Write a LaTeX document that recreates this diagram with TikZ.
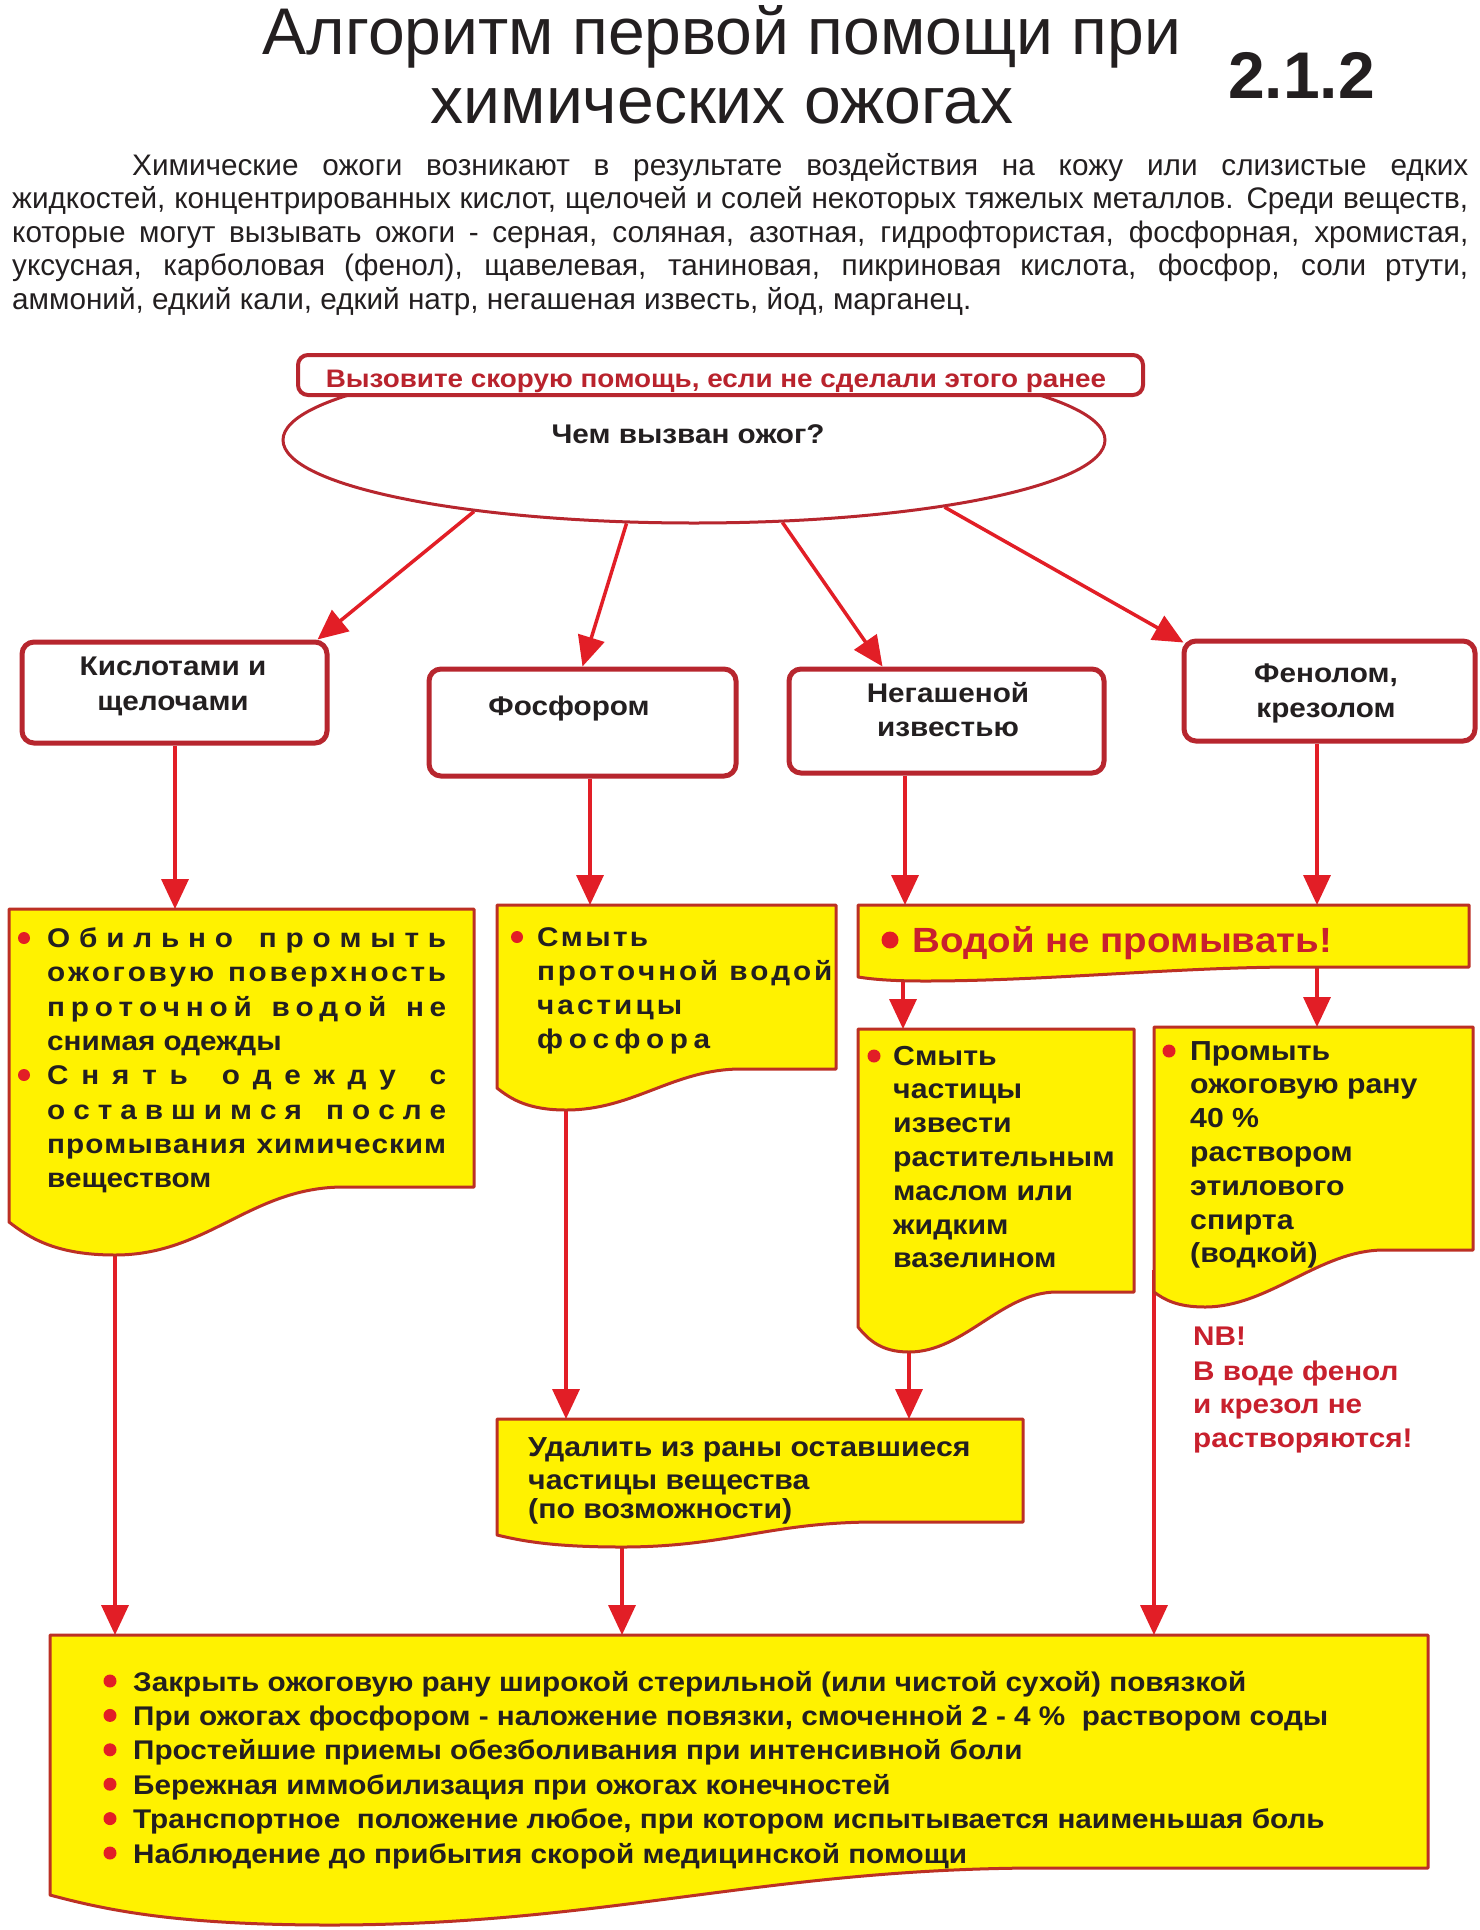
\documentclass[tikz,border=0pt]{standalone}
\usepackage{fontspec}
\setmainfont{Liberation Sans}
\newfontfamily\widesans{Liberation Sans}[FakeStretch=1.1]
\usetikzlibrary{arrows.meta,shapes.geometric,calc}
\pgfdeclarelayer{back}
\pgfdeclarelayer{under}
\pgfsetlayers{back,under,main}
\definecolor{txt}{RGB}{35,31,32}
\definecolor{boxred}{RGB}{183,38,46}
\definecolor{arrred}{RGB}{226,30,38}
\definecolor{docred}{RGB}{188,48,36}
\definecolor{yel}{RGB}{255,242,0}
\definecolor{redtxt}{RGB}{200,32,45}
\definecolor{calltxt}{RGB}{185,35,45}
\definecolor{bul}{RGB}{226,30,38}
\makeatletter
\def\lsp#1{\lsp@#1\@nil}
\def\lsp@#1#2\@nil{#1\if\relax\detokenize{#2}\relax\else\hfil\lsp@#2\@nil\fi}
\makeatother
\newcommand\docshape[8]{%
  \pgfmathsetmacro\dW{#4-#2}%
  \pgfmathsetmacro\dXc{#2+0.72*\dW}%
  \pgfmathsetmacro\dCa{\dXc-0.2*\dW}%
  \pgfmathsetmacro\dCb{#8+0.2*\dW}%
  \pgfmathsetmacro\dCc{#8-0.55*(#8-#2)}%
  \pgfmathsetmacro\dCd{#2+0.2*(#8-#2)}%
  \pgfmathsetmacro\dYd{0.5*(#6+#7)}%
  \path[docstyle] (#2,#3) -- (#4,#3) -- (#4,#5) -- (\dXc,#5) .. controls (\dCa,#5) and (\dCb,#7) .. (#8,#7) .. controls (\dCc,#7) and (\dCd,\dYd) .. (#2,#6) -- cycle;
  \coordinate (#1) at ({0.5*(#2+#4)},{0.5*(#3+#5)});
}
\begin{document}
\begin{tikzpicture}[x=1pt,y=-1pt,
  arr/.style={draw=arrred, line width=3.5pt, -{Triangle[length=30pt,width=27pt]}},
  wbox/.style={rectangle, draw=boxred, line width=5pt, fill=white, rounded corners=12pt, inner sep=0pt},
  docstyle/.style={draw=docred, line width=3pt, fill=yel, line join=round},
  ttl/.style={font=\fontsize{66}{70}\selectfont, text=txt, anchor=base, inner sep=0pt},
  numst/.style={font=\bfseries\fontsize{66}{70}\selectfont, text=txt, anchor=base west, inner sep=0pt},
  para/.style={font=\fontsize{29.7}{33}\selectfont, text=txt, anchor=base west, inner sep=0pt},
  bxt/.style={font=\widesans\bfseries\fontsize{27}{32}\selectfont, text=txt, anchor=base, inner sep=0pt},
  callst/.style={font=\widesans\bfseries\fontsize{25.3}{30}\selectfont, text=calltxt, anchor=base, inner sep=0pt},
  dta/.style={font=\widesans\bfseries\fontsize{27}{30}\selectfont, text=txt, anchor=base west, inner sep=0pt},
  dtb/.style={font=\widesans\bfseries\fontsize{27}{30}\selectfont, text=txt, anchor=base west, inner sep=0pt},
  dtc/.style={font=\widesans\bfseries\fontsize{27.5}{32}\selectfont, text=txt, anchor=base west, inner sep=0pt},
  dtr/.style={font=\widesans\bfseries\fontsize{35}{40}\selectfont, text=redtxt, anchor=base west, inner sep=0pt},
  nbt/.style={font=\widesans\bfseries\fontsize{27}{32}\selectfont, text=redtxt, anchor=base west, inner sep=0pt},
  dtd/.style={font=\widesans\bfseries\fontsize{27}{32}\selectfont, text=txt, anchor=base west, inner sep=0pt}
]
\begin{pgfonlayer}{back}
\fill[white] (0,0) rectangle (1480,1930);
\end{pgfonlayer}
\useasboundingbox (0,0) rectangle (1480,1930);

% title
\node[ttl] (t1) at (722,54) {Алгоритм первой помощи при};
\node[ttl] (t2) at (722,123) {химических ожогах};
\node[numst] (num) at (1228,98) {2.1.2};

% paragraph
\node[para] (p1) at (132,175) {\makebox[1336pt][s]{Химические ожоги возникают в результате воздействия на кожу или слизистые едких}};
\node[para] (p2) at (12,208.5) {\makebox[1456pt][s]{жидкостей, концентрированных кислот, щелочей и солей некоторых тяжелых металлов. Среди веществ,}};
\node[para] (p3) at (12,242) {\makebox[1456pt][s]{которые могут вызывать ожоги - серная, соляная, азотная, гидрофтористая, фосфорная, хромистая,}};
\node[para] (p4) at (12,275.5) {\makebox[1456pt][s]{уксусная, карболовая (фенол), щавелевая, таниновая, пикриновая кислота, фосфор, соли ртути,}};
\node[para] (p5) at (12,309) {аммоний, едкий кали, едкий натр, негашеная известь, йод, марганец.};

% ellipse and call box
\node[ellipse, draw=boxred, line width=3pt, fill=white, minimum width=822pt, minimum height=166pt, inner sep=0pt] (ell) at (694,440) {};
\node[bxt] (q) at (688,443) {Чем вызван ожог?};
\node[wbox, line width=4pt, rounded corners=10pt, minimum width=845pt, minimum height=40pt] (call) at (720.5,375) {};
\node[callst] (callt) at (716,387) {Вызовите скорую помощь, если не сделали этого ранее};

% cause boxes
\node[wbox, minimum width=305pt, minimum height=101pt] (b1) at (174.5,692.5) {};
\node[wbox, minimum width=307pt, minimum height=107pt] (b2) at (582.5,722.5) {};
\node[wbox, minimum width=315pt, minimum height=104pt] (b3) at (946.5,721) {};
\node[wbox, minimum width=291pt, minimum height=100pt] (b4) at (1329.5,691) {};
\node[bxt] (b1t1) at (173,675) {Кислотами и};
\node[bxt] (b1t2) at (173,710) {щелочами};
\node[bxt] (b2t1) at (569,715) {Фосфором};
\node[bxt] (b3t1) at (948,702) {Негашеной};
\node[bxt] (b3t2) at (948,736) {известью};
\node[bxt] (b4t1) at (1326,682) {Фенолом,};
\node[bxt] (b4t2) at (1326,717) {крезолом};

% documents
\docshape{d1}{9}{909}{474}{1187}{1222}{1255}{115}
\docshape{d2}{497}{905}{836}{1069}{1088}{1110}{566}
\docshape{d3}{858}{905}{1469}{967}{977}{981}{925}
\docshape{d4}{858}{1029}{1134}{1292}{1327}{1352}{909}
\docshape{d5}{1154}{1027}{1473}{1250}{1292}{1307}{1205}
\docshape{d6}{497}{1419}{1023}{1522}{1535}{1547}{622}
\docshape{d7}{50}{1635}{1428}{1868}{1895}{1925}{330}

% doc 1 text
\fill[bul] (24,938) circle[radius=6pt];
\fill[bul] (24,1075) circle[radius=6pt];
\node[dta] (d1l1) at (47,947) {\makebox[399pt][s]{\lsp{Обильно}\hfil\hfil\ \lsp{промыть}}};
\node[dta] (d1l2) at (47,981) {\makebox[399pt][s]{\lsp{ожоговую}\hfil\hfil\ \lsp{поверхность}}};
\node[dta] (d1l3) at (47,1016) {\makebox[399pt][s]{\lsp{проточной}\hfil\hfil\ \lsp{водой}\hfil\hfil\ \lsp{не}}};
\node[dta] (d1l4) at (47,1050) {снимая одежды};
\node[dta] (d1l5) at (47,1084) {\makebox[399pt][s]{\lsp{Снять}\hfil\hfil\ \lsp{одежду}\hfil\hfil\ \lsp{с}}};
\node[dta] (d1l6) at (47,1119) {\makebox[399pt][s]{\lsp{оставшимся}\hfil\hfil\ \lsp{после}}};
\node[dta] (d1l7) at (47,1153) {\makebox[399pt][s]{\lsp{промывания}\hfil\hfil\ \lsp{химическим}}};
\node[dta] (d1l8) at (47,1187) {веществом};

% doc 2 text
\fill[bul] (517,937) circle[radius=6pt];
\node[dtb] (d2l1) at (537,946) {\makebox[111pt][s]{\lsp{Смыть}}};
\node[dtb] (d2l2) at (537,980) {\makebox[295pt][s]{\lsp{проточной}\hfil\ \lsp{водой}}};
\node[dtb] (d2l3) at (537,1014) {\makebox[145pt][s]{\lsp{частицы}}};
\node[dtb] (d2l4) at (537,1048) {\makebox[173pt][s]{\lsp{фосфора}}};

% doc 3 text
\fill[bul] (890,940) circle[radius=8.5pt];
\node[dtr] (d3l1) at (912,952) {Водой не промывать!};

% doc 4 text
\fill[bul] (874,1056) circle[radius=6.5pt];
\foreach \s [count=\i] in {Смыть,частицы,извести,растительным,маслом или,жидким,вазелином}
  \node[dtc] (d4l\i) at (893,{1065+33.8*(\i-1)}) {\s};

% doc 5 text
\fill[bul] (1169,1051) circle[radius=6.5pt];
\foreach \s [count=\i] in {Промыть,ожоговую рану,40 \%,раствором,этилового,спирта,(водкой)}
  \node[dtc] (d5l\i) at (1190,{1060+33.8*(\i-1)}) {\s};

% NB
\node[nbt] (nb1) at (1193,1345) {NB!};
\node[nbt] (nb2) at (1193,1380) {В воде фенол};
\node[nbt] (nb3) at (1193,1413) {и крезол не};
\node[nbt] (nb4) at (1193,1447) {растворяются!};

% doc 6 text
\node[dtc] (d6l1) at (528,1456) {Удалить из раны оставшиеся};
\node[dtc] (d6l2) at (528,1489) {частицы вещества};
\node[dtc] (d6l3) at (528,1518) {(по возможности)};

% doc 7 text
\foreach \s [count=\i] in {
  {Закрыть ожоговую рану широкой стерильной (или чистой сухой) повязкой},
  {При ожогах фосфором - наложение повязки, смоченной 2 - 4 \%\ \ раствором соды},
  {Простейшие приемы обезболивания при интенсивной боли},
  {Бережная иммобилизация при ожогах конечностей},
  {Транспортное\ \ положение любое, при котором испытывается наименьшая боль},
  {Наблюдение до прибытия скорой медицинской помощи}}
{
  \fill[bul] (110,{1681+34.4*(\i-1)}) circle[radius=6.5pt];
  \node[dtd] (d7l\i) at (133,{1691+34.4*(\i-1)}) {\s};
}

% connector points
\coordinate (d1n) at (175,909);
\coordinate (d2n) at (590,905);
\coordinate (d3n1) at (905,905);
\coordinate (d3n2) at (1317,905);
\coordinate (d3s1) at (903,950);
\coordinate (d4n) at (903,1029);
\coordinate (d3s2) at (1317,950);
\coordinate (d5n) at (1317,1027);
\coordinate (d2s) at (566,1080);
\coordinate (d6n1) at (566,1419);
\coordinate (d4s) at (909,1320);
\coordinate (d6n2) at (909,1419);
\coordinate (d1s) at (115,1220);
\coordinate (d7n1) at (115,1635);
\coordinate (d6s) at (622,1530);
\coordinate (d7n2) at (622,1635);
\coordinate (d5s) at (1154,1270);
\coordinate (d7n3) at (1154,1635);

\begin{pgfonlayer}{under}
\draw[arr] (ell.198) -- ($(b1.north east)+(-12,0)$);
\draw[arr] (ell.231) -- (b2.north);
\draw[arr] (ell.317) -- ($(b3.north)+(-64,0)$);
\draw[arr] (ell.345) -- ($(b4.north west)+(2,4)$);
\draw[arr] (d1n |- b1.south) -- (d1n);
\draw[arr] (d2n |- b2.south) -- (d2n);
\draw[arr] (d3n1 |- b3.south) -- (d3n1);
\draw[arr] (d3n2 |- b4.south) -- (d3n2);
\draw[arr] (d3s1) -- (d4n);
\draw[arr] (d3s2) -- (d5n);
\draw[arr] (d2s) -- (d6n1);
\draw[arr] (d4s) -- (d6n2);
\draw[arr] (d1s) -- (d7n1);
\draw[arr] (d6s) -- (d7n2);
\draw[arr] (d5s) -- (d7n3);
\end{pgfonlayer}
\end{tikzpicture}
\end{document}
